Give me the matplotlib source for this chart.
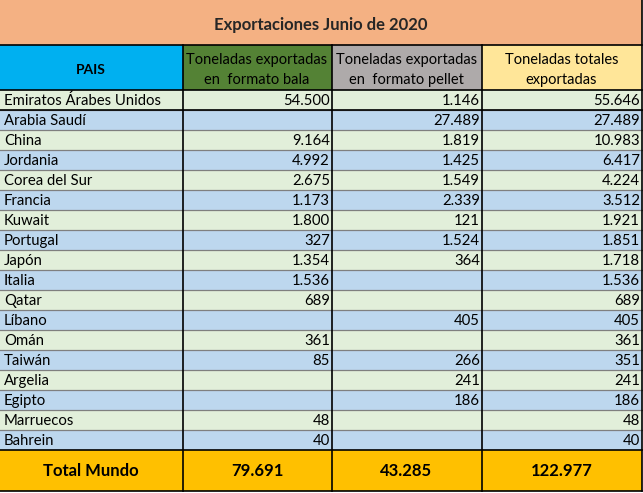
import matplotlib.pyplot as plt
from matplotlib.patches import Rectangle

plt.rcParams['font.family'] = ['Lato', 'DejaVu Sans']

title = "Exportaciones Junio de 2020"
headers = ["PAIS", "Toneladas exportadas\nen  formato bala",
           "Toneladas exportadas\nen  formato pellet", "Toneladas totales\nexportadas"]
countries = ["Emiratos Árabes Unidos", "Arabia Saudí", "China", "Jordania", "Corea del Sur",
             "Francia", "Kuwait", "Portugal", "Japón", "Italia", "Qatar", "Líbano", "Omán",
             "Taiwán", "Argelia", "Egipto", "Marruecos", "Bahrein"]
bala = ["54.500", "", "9.164", "4.992", "2.675", "1.173", "1.800", "327", "1.354", "1.536",
        "689", "", "361", "85", "", "", "48", "40"]
pellet = ["1.146", "27.489", "1.819", "1.425", "1.549", "2.339", "121", "1.524", "364", "",
          "", "405", "", "266", "241", "186", "", ""]
totales = ["55.646", "27.489", "10.983", "6.417", "4.224", "3.512", "1.921", "1.851", "1.718",
           "1.536", "689", "405", "361", "351", "241", "186", "48", "40"]
total_row = ["Total Mundo", "79.691", "43.285", "122.977"]

W, H = 643, 493
col_x = [0, 182.5, 331.5, 481.5, 641.5]
title_h, head_h, row_h, tot_h = 45, 45, 20, 40.5
head_colors = ["#00B0F0", "#548235", "#AEAAAA", "#FFE699"]
row_colors = ["#E2EFDA", "#BDD7EE"]

fig = plt.figure(figsize=(W / 100, H / 100), dpi=100)
ax = fig.add_axes([0, 0, 1, 1])
ax.set_xlim(0, W)
ax.set_ylim(H, 0)
ax.axis('off')

# title row
ax.add_patch(Rectangle((0, 0), col_x[-1], title_h, facecolor="#F4B183", edgecolor='none'))
ax.text(col_x[-1] / 2, title_h / 2 + 2.5, title, ha='center', va='center',
        fontsize=12, fontweight='bold', color='#262626')

# header row
y0 = title_h
for i, h in enumerate(headers):
    ax.add_patch(Rectangle((col_x[i], y0), col_x[i + 1] - col_x[i], head_h,
                           facecolor=head_colors[i], edgecolor='none'))
    ax.text((col_x[i] + col_x[i + 1]) / 2, y0 + head_h / 2 + 2.5, h, ha='center', va='center',
            fontsize=10.5 if i else 10, fontweight='bold' if i == 0 else 'normal',
            color='black', linespacing=1.55)

# data rows
y_data = title_h + head_h
for r in range(len(countries)):
    y = y_data + r * row_h
    ax.add_patch(Rectangle((0, y), col_x[-1], row_h, facecolor=row_colors[r % 2], edgecolor='none'))
    ax.text(4, y + row_h / 2 + 1, countries[r], ha='left', va='center', fontsize=10.7, color='black')
    for c, vals in enumerate([bala, pellet, totales], start=1):
        ax.text(col_x[c + 1] - 1.5, y + row_h / 2 + 1, vals[r], ha='right', va='center',
                fontsize=10.7, color='black')
    if r > 0:
        ax.plot([0, col_x[-1]], [y, y], color='#7F7F7F', lw=0.9)

# total row
y_tot = y_data + len(countries) * row_h
ax.add_patch(Rectangle((0, y_tot), col_x[-1], tot_h, facecolor="#FFC000", edgecolor='none'))
for i, t in enumerate(total_row):
    ax.text((col_x[i] + col_x[i + 1]) / 2, y_tot + tot_h / 2 + 1, t, ha='center', va='center',
            fontsize=12, fontweight='bold', color='black')

# borders
for y in [title_h, y_data, y_data + row_h, y_tot, y_tot + tot_h]:
    ax.plot([0, col_x[-1]], [y, y], color='black', lw=1.2)
for x in col_x[1:]:
    top = 0 if x == col_x[-1] else title_h
    ax.plot([x, x], [top, y_tot + tot_h], color='black', lw=1.2)

fig.savefig("out.png", dpi=100)
